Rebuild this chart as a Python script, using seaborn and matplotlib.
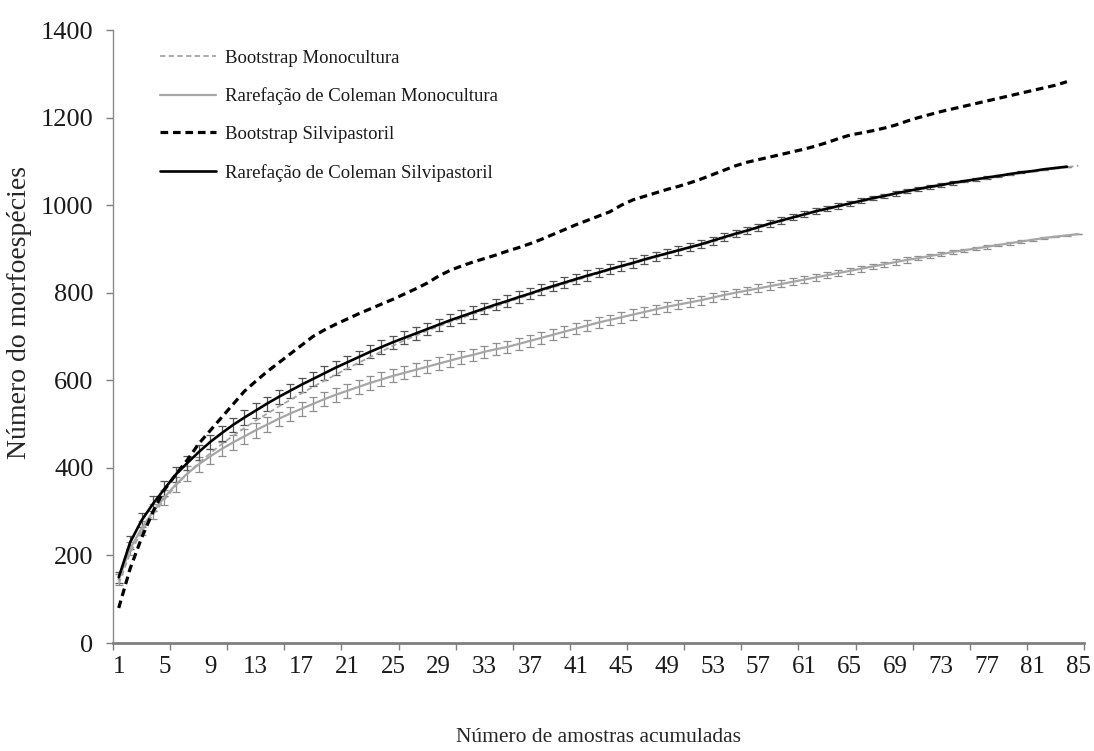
import numpy as np
import pandas as pd
import matplotlib
matplotlib.use("Agg")
import matplotlib.pyplot as plt
import seaborn as sns

# Amostras acumuladas (eixo de categorias 1..85)
amostras_mono = list(range(1, 86))
amostras_silvi = list(range(1, 85))

# Bootstrap Monocultura
boot_mono = [135, 205, 255, 293, 327, 360, 386, 411, 433, 454,
             473, 491, 508, 524, 540, 555, 570, 585, 599, 613,
             627, 640, 653, 666, 679, 691, 702, 713, 723, 733,
             742, 751, 760, 769, 778, 787, 795, 804, 812, 820,
             828, 836, 844, 852, 859, 866, 874, 881, 888, 895,
             902, 909, 916, 924, 932, 940, 948, 956, 963, 970,
             977, 984, 990, 996, 1002, 1008, 1014, 1019, 1025, 1030,
             1035, 1040, 1045, 1049, 1053, 1057, 1061, 1065, 1069, 1073,
             1077, 1080, 1084, 1087, 1090]

# Rarefação de Coleman Monocultura
cole_mono = [145, 215, 262, 300, 333, 362, 387, 408, 426, 443,
             458, 472, 486, 499, 512, 524, 535, 546, 557, 567,
             576, 585, 594, 602, 610, 617, 624, 631, 638, 645,
             652, 658, 665, 671, 676, 683, 690, 697, 704, 711,
             718, 725, 732, 738, 744, 750, 756, 762, 768, 773,
             778, 783, 789, 795, 800, 805, 810, 815, 820, 825,
             830, 835, 840, 845, 850, 855, 860, 865, 870, 875,
             879, 884, 888, 893, 897, 901, 905, 909, 913, 917,
             921, 925, 928, 931, 934]
err_mono = [12, 15, 16, 17, 17, 17, 17, 17, 17, 17,
            17, 17, 17, 17, 16, 16, 16, 16, 16, 16,
            16, 16, 16, 16, 15, 15, 15, 15, 15, 15,
            15, 14, 14, 14, 14, 14, 14, 13, 13, 13,
            13, 13, 12, 12, 12, 12, 11, 11, 11, 11,
            10, 10, 10, 10, 9, 9, 9, 9, 8, 8,
            8, 8, 7, 7, 7, 7, 6, 6, 6, 6,
            5, 5, 5, 5, 4, 4, 4, 3, 3, 3,
            2, 2, 1, 1, 0]

# Bootstrap Silvipastoril
boot_silvi = [80, 170, 240, 300, 350, 385, 418, 455, 485, 515,
              545, 575, 598, 620, 640, 660, 680, 700, 715, 728,
              740, 752, 763, 774, 785, 797, 809, 822, 838, 851,
              861, 870, 878, 886, 895, 903, 912, 922, 933, 944,
              955, 965, 975, 985, 1000, 1012, 1020, 1028, 1036, 1043,
              1051, 1060, 1070, 1080, 1090, 1098, 1104, 1110, 1116, 1122,
              1128, 1135, 1143, 1152, 1160, 1165, 1170, 1176, 1183, 1192,
              1200, 1207, 1214, 1220, 1226, 1232, 1238, 1244, 1250, 1256,
              1262, 1268, 1274, 1282]

# Rarefação de Coleman Silvipastoril
cole_silvi = [150, 230, 280, 318, 352, 385, 411, 436, 459, 479,
              498, 515, 531, 547, 562, 576, 590, 603, 616, 629,
              641, 653, 665, 676, 687, 697, 707, 717, 727, 737,
              746, 755, 764, 773, 781, 790, 798, 807, 815, 823,
              831, 839, 846, 854, 861, 868, 876, 883, 890, 897,
              904, 911, 919, 927, 935, 942, 950, 958, 965, 972,
              979, 986, 992, 998, 1004, 1010, 1016, 1021, 1027, 1032,
              1037, 1042, 1046, 1051, 1055, 1059, 1063, 1067, 1071, 1075,
              1078, 1082, 1085, 1088]
err_silvi = [12, 15, 16, 17, 17, 17, 17, 17, 17, 17,
             17, 17, 17, 16, 16, 16, 16, 16, 16, 16,
             15, 15, 15, 15, 15, 15, 14, 14, 14, 14,
             14, 14, 13, 13, 13, 13, 13, 12, 12, 12,
             12, 12, 11, 11, 11, 11, 10, 10, 10, 10,
             9, 9, 9, 9, 8, 8, 8, 8, 7, 7,
             7, 7, 6, 6, 6, 6, 5, 5, 5, 5,
             4, 4, 4, 4, 3, 3, 3, 2, 2, 2,
             1, 1, 0, 0]

x_labels = list(range(1, 86, 4))

sns.set_style("white")
plt.rcParams["font.family"] = ["Liberation Serif", "DejaVu Serif"]
plt.rcParams["text.color"] = "#1a1a1a"

fig = plt.figure(figsize=(10.94, 7.51), dpi=100)
ax = fig.add_axes([0.1033, 0.1438, 0.8876, 0.8162])

cinza = "#a6a6a6"

# barras de erro das rarefações
ax.errorbar(amostras_mono, cole_mono, yerr=err_mono, fmt="none",
            ecolor="#8f8f8f", elinewidth=0.9, capsize=2.8, capthick=0.9, zorder=2)
ax.errorbar(amostras_silvi, cole_silvi, yerr=err_silvi, fmt="none",
            ecolor="#555555", elinewidth=0.9, capsize=2.8, capthick=0.9, zorder=2)

sns.lineplot(x=amostras_mono, y=boot_mono, ax=ax, color=cinza, lw=1.3,
             linestyle=(0, (3, 1.8)), label="Bootstrap Monocultura", zorder=3)
sns.lineplot(x=amostras_mono, y=cole_mono, ax=ax, color=cinza, lw=1.6,
             label="Rarefação de Coleman Monocultura", zorder=3)
sns.lineplot(x=amostras_silvi, y=boot_silvi, ax=ax, color="black", lw=2.3,
             linestyle=(0, (2.4, 1.5)), label="Bootstrap Silvipastoril", zorder=4)
sns.lineplot(x=amostras_silvi, y=cole_silvi, ax=ax, color="black", lw=1.9,
             label="Rarefação de Coleman Silvipastoril", zorder=4)

ax.set_xlim(0.5, 85.5)
ax.set_ylim(0, 1400)
ax.set_yticks(range(0, 1401, 200))

# marcas a cada 5 categorias, rótulos a cada 4
ax.set_xticks(np.arange(0.5, 86, 5))
ax.set_xticklabels([])
ax.set_xticks(x_labels, minor=True)
ax.set_xticklabels([str(v) for v in x_labels], minor=True)
ax.tick_params(axis="x", which="major", direction="out", length=5, width=1,
               color="#7f7f7f", bottom=True)
ax.tick_params(axis="x", which="minor", length=0, pad=9, labelsize=18,
               labelcolor="#1a1a1a", bottom=True)
ax.tick_params(axis="y", direction="out", length=5, width=1, color="#7f7f7f",
               pad=9, labelsize=19, labelcolor="#1a1a1a", left=True)

for s in ["top", "right"]:
    ax.spines[s].set_visible(False)
ax.spines["left"].set_color("#8a8a8a")
ax.spines["left"].set_linewidth(1.0)
ax.spines["bottom"].set_color("#7f7f7f")
ax.spines["bottom"].set_linewidth(2.0)

ax.set_xlabel("Número de amostras acumuladas", fontsize=15.5, labelpad=36)
ax.set_ylabel("Número do morfoespécies", fontsize=20)
ax.yaxis.set_label_coords(-0.083, 0.54)

ax.legend(loc="upper left", bbox_to_anchor=(0.048, 0.968), frameon=False,
          fontsize=13.5, handlelength=3.0, handletextpad=0.5, labelspacing=1.1,
          borderpad=0, borderaxespad=0)

fig.savefig("out.png", dpi=100)
